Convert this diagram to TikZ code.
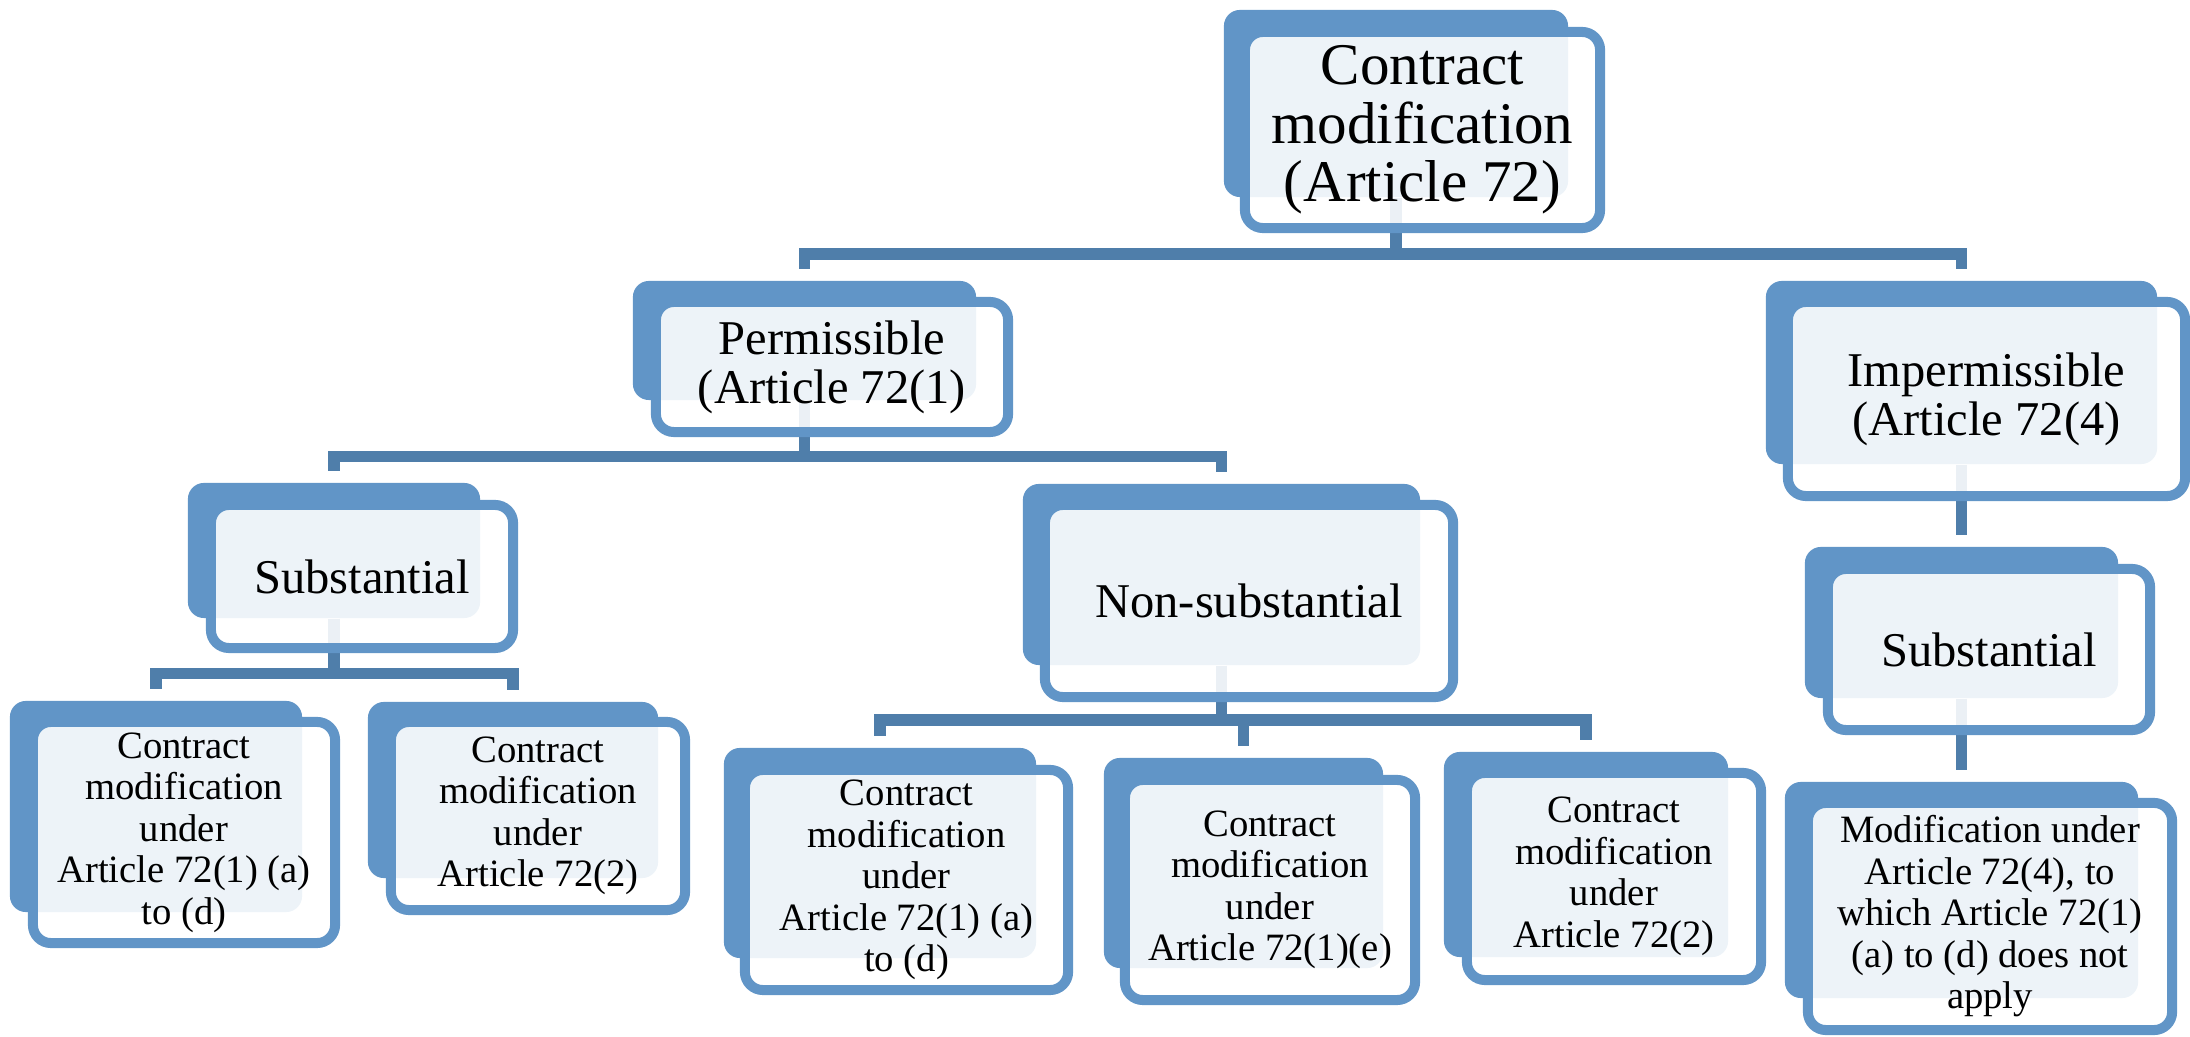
\documentclass[tikz,border=0pt]{standalone}
\usepackage{fontspec}
\setmainfont{Liberation Serif}
\usetikzlibrary{backgrounds}

\definecolor{boxblue}{RGB}{97,149,199}
\definecolor{linkblue}{RGB}{79,126,170}

\tikzset{
	backbox/.style={fill=boxblue, rounded corners=0.16cm, inner sep=0pt},
	frontbox/.style={draw=boxblue, line width=0.1cm, fill=white, fill opacity=0.89, text opacity=1,
		rounded corners=0.18cm, inner sep=0pt, align=center},
	link/.style={draw=linkblue, line width=0.115cm, shorten >=0.11cm},
	bigtxt/.style={font=\fontsize{16.8}{16.6}\selectfont},
	midtxt/.style={font=\fontsize{13.8}{13.9}\selectfont},
	smalltxt/.style={font=\fontsize{11}{11.8}\selectfont},
}

\begin{document}
\begin{tikzpicture}[x=0.01cm, y=-0.01cm]
	\useasboundingbox (0,0) rectangle (2190,1037);
	
	% top
	\node[backbox, minimum width=3.44cm, minimum height=1.87cm] (topB) at (1396,103.5) {};
	\node[frontbox, bigtxt, minimum width=3.55cm, minimum height=1.96cm] (top) at (1422.5,130) {Contract\\modification\\(Article 72)};
	
	% second row
	\node[backbox, minimum width=3.43cm, minimum height=1.19cm] (permB) at (804.5,340.5) {};
	\node[frontbox, midtxt, minimum width=3.52cm, minimum height=1.30cm] (perm) at (832,367) {Permissible\\(Article 72(1)};
	\node[backbox, minimum width=3.91cm, minimum height=1.83cm] (impB) at (1961.5,372.5) {};
	\node[frontbox, midtxt, minimum width=3.97cm, minimum height=1.94cm] (imp) at (1986.5,399) {Impermissible\\(Article 72(4)};
	
	% third row
	\node[backbox, minimum width=2.92cm, minimum height=1.35cm] (sublB) at (334,550.5) {};
	\node[frontbox, midtxt, minimum width=3.02cm, minimum height=1.43cm] (subl) at (362,576.5) {Substantial};
	\node[backbox, minimum width=3.97cm, minimum height=1.81cm] (nonsB) at (1221.5,574.5) {};
	\node[frontbox, midtxt, minimum width=4.08cm, minimum height=1.92cm] (nons) at (1249,601) {Non-substantial};
	\node[backbox, minimum width=3.13cm, minimum height=1.51cm] (subrB) at (1961.5,622.5) {};
	\node[frontbox, midtxt, minimum width=3.22cm, minimum height=1.61cm] (subr) at (1989,649.5) {Substantial};
	
	% bottom row
	\node[backbox, minimum width=2.92cm, minimum height=2.11cm] (saB) at (156,806.5) {};
	\node[frontbox, smalltxt, minimum width=3.02cm, minimum height=2.21cm] (sa) at (184,832.5) {Contract\\modification\\under\\Article 72(1) (a)\\to (d)};
	\node[backbox, minimum width=2.90cm, minimum height=1.76cm] (sbB) at (513,790) {};
	\node[frontbox, smalltxt, minimum width=2.94cm, minimum height=1.88cm] (sb) at (538,816) {Contract\\modification\\under\\Article 72(2)};
	\node[backbox, minimum width=3.12cm, minimum height=2.10cm] (nsaB) at (880,853) {};
	\node[frontbox, smalltxt, minimum width=3.23cm, minimum height=2.20cm] (nsa) at (906.5,880) {Contract\\modification\\under\\Article 72(1) (a)\\to (d)};
	\node[backbox, minimum width=2.79cm, minimum height=2.10cm] (nsbB) at (1243.5,863) {};
	\node[frontbox, smalltxt, minimum width=2.90cm, minimum height=2.20cm] (nsb) at (1270,890) {Contract\\modification\\under\\Article 72(1)(e)};
	\node[backbox, minimum width=2.84cm, minimum height=2.05cm] (nscB) at (1586,854.5) {};
	\node[frontbox, smalltxt, minimum width=2.94cm, minimum height=2.07cm] (nsc) at (1614,876.5) {Contract\\modification\\under\\Article 72(2)};
	\node[backbox, minimum width=3.53cm, minimum height=2.16cm] (finB) at (1961.5,890) {};
	\node[frontbox, smalltxt, minimum width=3.64cm, minimum height=2.27cm] (fin) at (1990,916.5) {Modification under\\Article 72(4), to\\which Article 72(1)\\(a) to (d) does not\\apply};
	
	\begin{scope}[on background layer]
		\draw[link] (topB.south) -- ++(0,56) -| (permB.north);
		\draw[link] (topB.south) -- ++(0,56) -| (impB.north);
		\draw[link] (permB.south) -- ++(0,56) -| (sublB.north);
		\draw[link] (permB.south) -- ++(0,56) -| (nonsB.north);
		\draw[link] (sublB.south) -- ++(0,55) -| (saB.north);
		\draw[link] (sublB.south) -- ++(0,55) -| (sbB.north);
		\draw[link] (nonsB.south) -- ++(0,54) -| (nsaB.north);
		\draw[link] (nonsB.south) -- ++(0,54) -| (nsbB.north);
		\draw[link] (nonsB.south) -- ++(0,54) -| (nscB.north);
		\draw[link] (impB.south) -- (subrB.north);
		\draw[link] (subrB.south) -- (finB.north);
	\end{scope}
	
\end{tikzpicture}
\end{document}
